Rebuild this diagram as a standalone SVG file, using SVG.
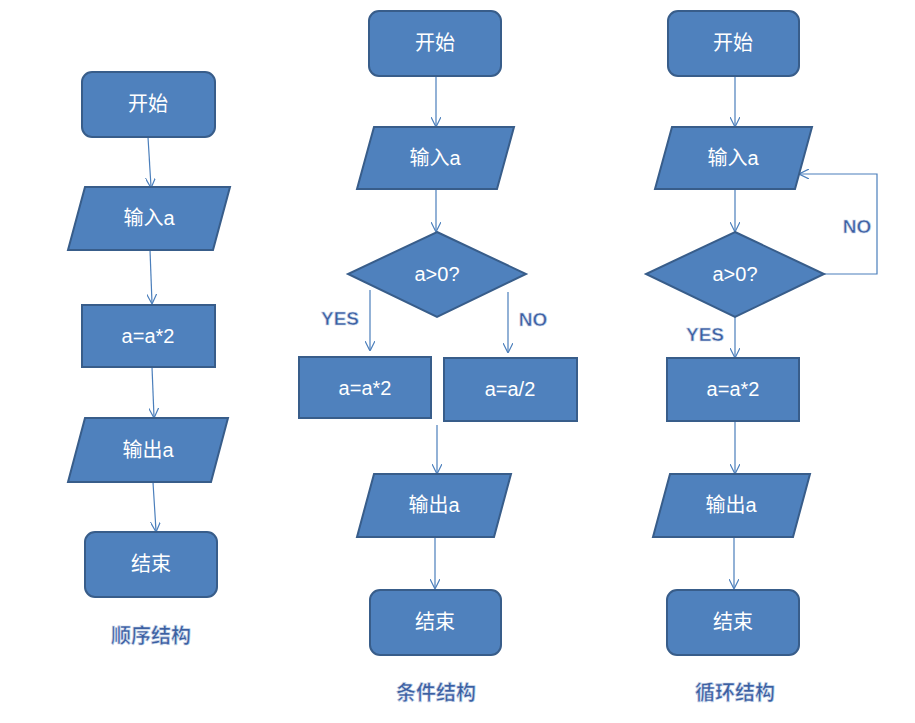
<svg xmlns="http://www.w3.org/2000/svg" width="915" height="723" viewBox="0 0 915 723">
<style>
.n{fill:#4F81BD;stroke:#385D8A;stroke-width:2}
.t{fill:#fff;font-family:"Liberation Sans","Noto Sans CJK SC",sans-serif;font-size:20px;text-anchor:middle;dominant-baseline:central}
.c{fill:none;stroke:#4A7EBB;stroke-width:1.2;marker-end:url(#a)}
.l{fill:#3C5FA0;stroke:#C9D6EA;stroke-width:0.6;font-family:"Noto Sans CJK SC",sans-serif;font-weight:bold;font-size:20px;text-anchor:middle}
.y{fill:#3C5FA0;stroke:#C9D6EA;stroke-width:0.6;font-family:"Liberation Sans",sans-serif;font-weight:bold;font-size:19px;text-anchor:middle}
</style>
<defs><marker id="a" viewBox="0 0 10 10" refX="9" refY="5" markerWidth="10" markerHeight="10" markerUnits="userSpaceOnUse" orient="auto"><path d="M0,0L10,5L0,10" fill="none" stroke="#4A7EBB" stroke-width="1.2"/></marker></defs>
<rect width="915" height="723" fill="#fff"/>
<g id="connectors">
<path class="c" d="M148,137L151,187"/>
<path class="c" d="M150,250L152,303"/>
<path class="c" d="M152,367L154,417"/>
<path class="c" d="M153,482L156,531"/>
<path class="c" d="M436,76V126"/>
<path class="c" d="M436,189V231"/>
<path class="c" d="M370,290V350"/>
<path class="c" d="M508,292V352"/>
<path class="c" d="M437,425V473"/>
<path class="c" d="M435,537V588"/>
<path class="c" d="M735,76V126"/>
<path class="c" d="M735,189V231"/>
<path class="c" d="M824,274H877V174H800"/>
<path class="c" d="M735,317V357"/>
<path class="c" d="M735,421V473"/>
<path class="c" d="M734,537V588"/>
</g>
<g id="s1">
<rect class="n" x="82" y="72" width="133" height="65" rx="10"/><text class="t" x="148" y="104">开始</text>
<polygon class="n" points="85,187 230,187 213,250 68,250"/><text class="t" x="149" y="218">输入a</text>
<rect class="n" x="82" y="305" width="133" height="62"/><text class="t" x="148" y="336">a=a*2</text>
<polygon class="n" points="85,418 228,418 211,482 68,482"/><text class="t" x="148" y="450">输出a</text>
<rect class="n" x="85" y="532" width="132" height="65" rx="10"/><text class="t" x="151" y="564">结束</text>
</g>
<g id="s2">
<rect class="n" x="369" y="11" width="132" height="65" rx="10"/><text class="t" x="435" y="43">开始</text>
<polygon class="n" points="374,127 514,127 497,189 357,189"/><text class="t" x="435" y="158">输入a</text>
<polygon class="n" points="437,232 526,274 437,317 348,274"/><text class="t" x="437" y="274">a&gt;0?</text>
<rect class="n" x="299" y="357" width="132" height="61"/><text class="t" x="365" y="388">a=a*2</text>
<rect class="n" x="444" y="358" width="133" height="63"/><text class="t" x="510" y="389">a=a/2</text>
<polygon class="n" points="374,474 511,474 494,537 357,537"/><text class="t" x="434" y="505">输出a</text>
<rect class="n" x="370" y="590" width="131" height="65" rx="10"/><text class="t" x="435" y="622">结束</text>
</g>
<g id="s3">
<rect class="n" x="668" y="11" width="131" height="65" rx="10"/><text class="t" x="733" y="43">开始</text>
<polygon class="n" points="672,127 812,127 795,189 655,189"/><text class="t" x="733" y="158">输入a</text>
<polygon class="n" points="735,232 824,274 735,317 646,274"/><text class="t" x="735" y="274">a&gt;0?</text>
<rect class="n" x="667" y="358" width="132" height="63"/><text class="t" x="733" y="389">a=a*2</text>
<polygon class="n" points="670,474 810,474 793,537 653,537"/><text class="t" x="731" y="505">输出a</text>
<rect class="n" x="667" y="590" width="132" height="65" rx="10"/><text class="t" x="733" y="622">结束</text>
</g>
<g id="labels">
<text class="l" x="151" y="643">顺序结构</text>
<text class="l" x="436" y="700">条件结构</text>
<text class="l" x="735" y="700">循环结构</text>
<text class="y" x="340" y="325">YES</text>
<text class="y" x="533" y="326">NO</text>
<text class="y" x="857" y="233">NO</text>
<text class="y" x="705" y="341">YES</text>
</g>
</svg>
